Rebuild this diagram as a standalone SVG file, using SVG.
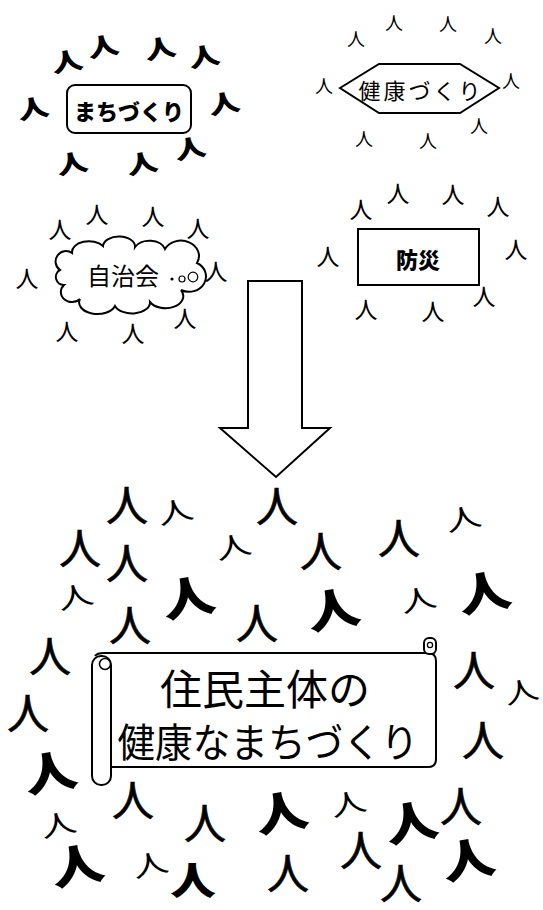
<svg xmlns="http://www.w3.org/2000/svg" width="543" height="910" viewBox="0 0 543 910">
<style>
text{font-family:"Noto Sans CJK JP","Noto Sans CJK SC",sans-serif;text-anchor:middle;dominant-baseline:central;fill:#000}
.b{font-weight:900}
.r{font-weight:400}
.t{font-weight:400}
.thick{stroke:#000;stroke-width:0.7}
.s1{font-size:24px}
.s2{font-size:18px}
.s3{font-size:23px}
.s4{font-size:42px}
.s5{font-size:31px}
.s6{font-size:44px}
.shape{fill:#fff;stroke:#000;stroke-width:2}
</style>
<rect width="543" height="910" fill="#fff"/>

<g id="people-machizukuri" class="b s1">
<text transform="translate(67,60) rotate(-10) scale(1.3,1)">人</text>
<text transform="translate(103,45) rotate(-10) scale(1.3,1)">人</text>
<text transform="translate(160,47) rotate(-10) scale(1.3,1)">人</text>
<text transform="translate(204,55) rotate(-10) scale(1.3,1)">人</text>
<text transform="translate(33,107) rotate(-10) scale(1.3,1)">人</text>
<text transform="translate(224,102) rotate(-10) scale(1.3,1)">人</text>
<text transform="translate(72,162) rotate(-10) scale(1.3,1)">人</text>
<text transform="translate(142,162) rotate(-10) scale(1.3,1)">人</text>
<text transform="translate(190,147) rotate(-10) scale(1.3,1)">人</text>
</g>
<g id="node-machizukuri">
<rect class="shape" x="67" y="85" width="124" height="48" rx="8"/>
<text class="b" x="129" y="110" font-size="22">まちづくり</text>
</g>

<g id="people-kenko" class="r s2">
<text x="394" y="22">人</text>
<text x="356" y="38">人</text>
<text x="448" y="23">人</text>
<text x="493" y="35">人</text>
<text x="324" y="85">人</text>
<text x="511" y="80">人</text>
<text x="364" y="138">人</text>
<text x="428" y="140">人</text>
<text x="479" y="125">人</text>
</g>
<g id="node-kenkozukuri">
<polygon class="shape" stroke-width="1.5" points="340,88 379,64 460,64 499,88 460,113 379,113"/>
<text class="r" x="421" y="89" font-size="22" letter-spacing="3">健康づくり</text>
</g>

<g id="people-jichikai" class="r s3">
<text x="60" y="228">人</text>
<text x="97" y="213">人</text>
<text x="153" y="215">人</text>
<text x="198" y="227">人</text>
<text x="27" y="277">人</text>
<text x="216" y="270">人</text>
<text x="67" y="330">人</text>
<text x="133" y="332">人</text>
<text x="185" y="317">人</text>
</g>
<g id="node-jichikai">
<path class="shape" stroke-width="1.5" d="M60,270 A10,10 0 0 1 72,253 A17,11 0 0 1 103,246 A16,10 0 0 1 135,247 A16,11 0 0 1 165,249 A14,12 0 0 1 197,263 A10,9 0 0 1 181,290 A16,11 0 0 1 150,302 A18,11 0 0 1 115,306 A16,10 0 0 1 80,299 A10,9 0 0 1 64,285 A8,8 0 0 1 60,270 Z"/>
<circle cx="172" cy="279" r="1.6" fill="#000"/>
<circle cx="182" cy="279" r="3" fill="#fff" stroke="#000" stroke-width="1.2"/>
<circle cx="193" cy="277" r="4.8" fill="#fff" stroke="#000" stroke-width="1.2"/>
<text class="r" x="123" y="274" font-size="24">自治会</text>
</g>

<g id="people-bosai" class="r s3">
<text x="361" y="208">人</text>
<text x="398" y="192">人</text>
<text x="453" y="193">人</text>
<text x="498" y="205">人</text>
<text x="328" y="255">人</text>
<text x="516" y="248">人</text>
<text x="484" y="295">人</text>
<text x="366" y="308">人</text>
<text x="433" y="310">人</text>
</g>
<g id="node-bosai">
<rect class="shape" stroke-width="1.5" x="358" y="229" width="121" height="56"/>
<text class="b" x="418" y="258" font-size="22">防災</text>
</g>

<g id="connectors">
<polygon class="shape" stroke-width="2.5" stroke-linejoin="miter" points="248,281 302,281 302,428 330,428 276,477 220,428 248,428"/>
</g>

<g id="people-community">
<g class="r s4 thick">
<text x="127" y="502">人</text>
<text x="80" y="545">人</text>
<text x="127" y="560">人</text>
<text x="130" y="622">人</text>
<text x="257" y="620">人</text>
<text x="277" y="503">人</text>
<text x="321" y="548">人</text>
<text x="399" y="535">人</text>
<text x="50" y="653">人</text>
<text x="28" y="710">人</text>
<text x="133" y="797">人</text>
<text x="205" y="820">人</text>
<text x="474" y="667">人</text>
<text x="483" y="737">人</text>
<text x="461" y="803">人</text>
<text x="361" y="847">人</text>
<text x="288" y="870">人</text>
<text x="401" y="880">人</text>
</g>
<g class="t s5">
<text transform="translate(175,510) rotate(-12) scale(1.15,0.85)">人</text>
<text transform="translate(233,545) rotate(-12) scale(1.15,0.85)">人</text>
<text transform="translate(75,595) rotate(-12) scale(1.15,0.85)">人</text>
<text transform="translate(418,598) rotate(-12) scale(1.15,0.85)">人</text>
<text transform="translate(463,517) rotate(-12) scale(1.15,0.85)">人</text>
<text transform="translate(348,802) rotate(-12) scale(1.15,0.85)">人</text>
<text transform="translate(58,823) rotate(-12) scale(1.15,0.85)">人</text>
<text transform="translate(150,863) rotate(-12) scale(1.15,0.85)">人</text>
<text transform="translate(521,690) rotate(-12) scale(1.1,0.85)">人</text>
</g>
<g class="b s6">
<text transform="translate(188,595) rotate(-10) scale(1.2,1)">人</text>
<text transform="translate(333,607) rotate(-10) scale(1.2,1)">人</text>
<text transform="translate(484,590) rotate(-10) scale(1.2,1)">人</text>
<text transform="translate(50,770) rotate(-10) scale(1.2,1)">人</text>
<text transform="translate(77,863) rotate(-10) scale(1.2,1)">人</text>
<text transform="translate(193,877) scale(1.2,1)" font-size="38">人</text>
<text transform="translate(281,810) rotate(-10) scale(1.2,1)">人</text>
<text transform="translate(411,820) rotate(-10) scale(1.2,1)">人</text>
<text transform="translate(468,857) rotate(-10) scale(1.2,1)">人</text>
</g>
</g>

<g id="node-banner">
<path class="shape" stroke-width="1.8" d="M95,656 Q97,653 104,653 L428,653 Q436,653 436,661 L436,759 Q436,767 428,767 L111,767"/>
<rect class="shape" stroke-width="1.8" x="424" y="638" width="12" height="16" rx="5"/>
<circle cx="430" cy="645" r="2.6" fill="none" stroke="#000" stroke-width="1.2"/>
<rect class="shape" stroke-width="1.8" x="92" y="656" width="19" height="129" rx="9"/>
<circle cx="105" cy="664" r="5.5" fill="#fff" stroke="#000" stroke-width="1.5"/>
<text class="r" x="265" y="686" font-size="42">住民主体の</text>
<text class="r" x="268" y="740" font-size="40" textLength="301" lengthAdjust="spacingAndGlyphs">健康なまちづくり</text>
</g>
</svg>
